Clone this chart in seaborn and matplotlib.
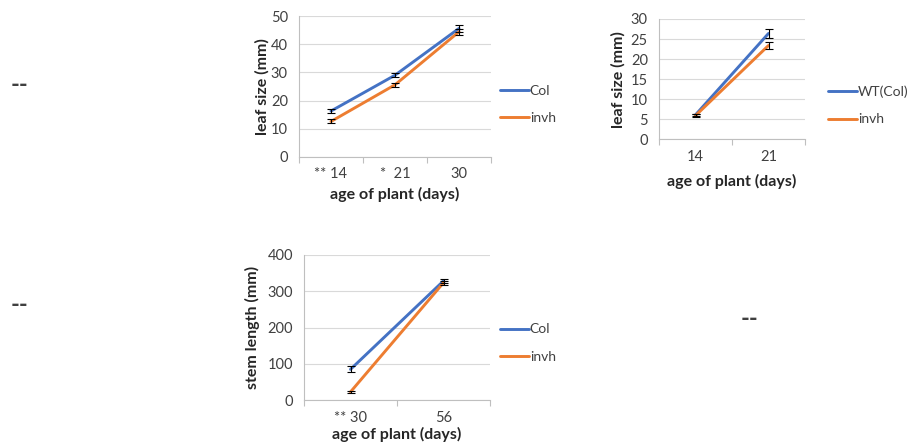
import numpy as np
import pandas as pd
import matplotlib
matplotlib.use("Agg")
import matplotlib.pyplot as plt
import seaborn as sns
from matplotlib.ticker import FixedLocator, FixedFormatter, NullFormatter

sns.set_theme(style="white")
plt.rcParams['font.family'] = ['Lato', 'DejaVu Sans']

BLUE = "#4472C4"
ORANGE = "#ED7D31"
GRID = "#D9D9D9"
AXIS = "#BFBFBF"
TEXT = "#404040"

# Leaf size over time, Col vs invh
leaf_days = ["** 14", "*  21", "30"]
leaf_col = [16.3, 29.0, 45.6]
leaf_col_err = [0.7, 0.8, 1.2]
leaf_invh = [12.6, 25.6, 44.4]
leaf_invh_err = [0.7, 0.7, 1.0]

# Leaf size, second experiment, WT(Col) vs invh
leaf2_days = ["14", "21"]
leaf2_wt = [6.1, 26.4]
leaf2_wt_err = [0.3, 1.1]
leaf2_invh = [5.9, 23.4]
leaf2_invh_err = [0.3, 0.9]

# Stem length, Col vs invh
stem_days = ["** 30", "56"]
stem_col = [85, 328]
stem_col_err = [8, 5]
stem_invh = [23, 323]
stem_invh_err = [3, 5]

W, H = 908, 443
fig = plt.figure(figsize=(W / 100, H / 100), dpi=100)

TICK_FS = 10.5
LABEL_FS = 11.5
LEGEND_FS = 10


def px_axes(left, top, right, bottom):
    return fig.add_axes([left / W, 1 - bottom / H, (right - left) / W, (bottom - top) / H])


def panel(box, days, series, ylim, yticks, ylabel, legend_xy, ylabel_x, xlabel_y):
    ax = px_axes(*box)
    pos = np.arange(len(days))
    frames = []
    for name, vals, _, _ in series:
        frames.append(pd.DataFrame({"pos": pos, "value": vals, "line": name}))
    df = pd.concat(frames, ignore_index=True)
    palette = {name: color for name, _, _, color in series}
    sns.lineplot(data=df, x="pos", y="value", hue="line", palette=palette,
                 linewidth=2.1, ax=ax, legend=True, zorder=3)
    for name, vals, errs, _ in series:
        ax.errorbar(pos, vals, yerr=errs, fmt="none", ecolor="black",
                    elinewidth=0.8, capsize=2.6, capthick=0.8, zorder=4)

    ax.set_xlim(-0.5, len(days) - 0.5)
    ax.set_ylim(*ylim)
    ax.set_yticks(yticks)
    ax.set_yticklabels([str(t) for t in yticks])
    ax.yaxis.grid(True, color=GRID, linewidth=0.8)
    ax.set_axisbelow(True)

    ax.xaxis.set_major_locator(FixedLocator(np.arange(-0.5, len(days), 1.0)))
    ax.xaxis.set_major_formatter(NullFormatter())
    ax.xaxis.set_minor_locator(FixedLocator(pos))
    ax.xaxis.set_minor_formatter(FixedFormatter(days))
    ax.tick_params(axis="x", which="major", direction="out", length=4.5,
                   width=0.8, color=AXIS, bottom=True)
    ax.tick_params(axis="x", which="minor", length=0, pad=7.5,
                   labelsize=TICK_FS, labelcolor=TEXT)
    ax.tick_params(axis="y", length=0, pad=8.0, labelsize=TICK_FS, labelcolor=TEXT)

    for side in ("top", "right"):
        ax.spines[side].set_visible(False)
    for side in ("left", "bottom"):
        ax.spines[side].set_color(AXIS)
        ax.spines[side].set_linewidth(0.8)

    ax.set_xlabel("age of plant (days)", fontsize=LABEL_FS, fontweight="bold", color="#262626")
    ax.set_ylabel(ylabel, fontsize=LABEL_FS, fontweight="bold", color="#262626")
    left, top, right, bottom = box
    ax.yaxis.set_label_coords((ylabel_x + 7 - left) / (right - left), 0.5)
    ax.xaxis.set_label_coords(0.5, (bottom - xlabel_y) / (bottom - top))

    handles, labels = ax.get_legend_handles_labels()
    ax.legend(handles, labels, loc="center left",
              bbox_to_anchor=(legend_xy[0] / W, 1 - legend_xy[1] / H),
              bbox_transform=fig.transFigure, frameon=False, fontsize=LEGEND_FS,
              handlelength=2.1, handletextpad=0.05, borderpad=0, borderaxespad=0,
              labelspacing=1.1, labelcolor=TEXT)
    return ax


panel((299, 16, 491, 157), leaf_days,
      [("Col", leaf_col, leaf_col_err, BLUE), ("invh", leaf_invh, leaf_invh_err, ORANGE)],
      (0, 50), [0, 10, 20, 30, 40, 50], "leaf size (mm)",
      (500, 104.5), 263, 187)

panel((659, 19, 805, 139.3), leaf2_days,
      [("WT(Col)", leaf2_wt, leaf2_wt_err, BLUE), ("invh", leaf2_invh, leaf2_invh_err, ORANGE)],
      (0, 30), [0, 5, 10, 15, 20, 25, 30], "leaf size (mm)",
      (828, 105.5), 619, 174)

panel((304, 254.7, 490, 400.3), stem_days,
      [("Col", stem_col, stem_col_err, BLUE), ("invh", stem_invh, stem_invh_err, ORANGE)],
      (0, 400), [0, 100, 200, 300, 400], "stem length (mm)",
      (500, 343), 253, 427)

# placeholder dashes beside the panels
for x, y in [(19, 84), (19, 305), (750, 318)]:
    fig.text(x / W, 1 - y / H, "--", fontsize=17, fontweight="bold",
             color="#404040", ha="center", va="center")

fig.savefig("out.png", dpi=100)
